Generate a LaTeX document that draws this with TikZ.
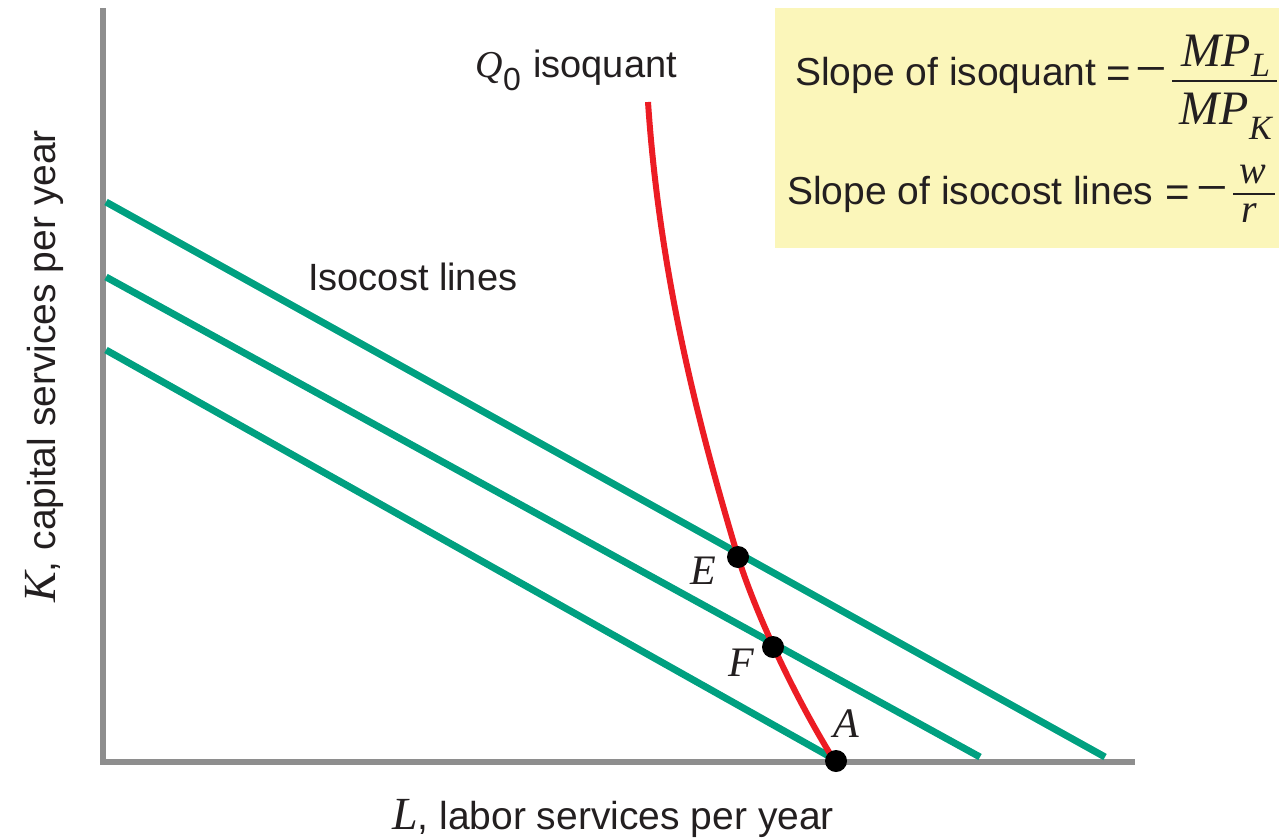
\documentclass[tikz,border=0pt]{standalone}
\usepackage{fontspec}
\setmainfont{Liberation Sans}
\newfontfamily\tms{Liberation Serif}
\definecolor{isogreen}{RGB}{0,160,128}
\definecolor{isored}{RGB}{236,28,36}
\definecolor{axisgray}{RGB}{142,142,142}
\definecolor{boxyellow}{RGB}{251,246,186}
\definecolor{textdark}{RGB}{35,31,32}
\newcommand{\sfz}[1]{\fontsize{#1}{#1}\selectfont}
\begin{document}
\begin{tikzpicture}[x=1pt,y=-1pt,
  lab/.style={inner sep=0pt, text=textdark},
  axisline/.style={draw=axisgray, line width=6pt},
  isocost/.style={draw=isogreen, line width=7pt},
  isoquant/.style={draw=isored, line width=6pt},
  dotnode/.style={circle, fill=black, inner sep=0pt, minimum size=22pt},
  fracbar/.style={draw=textdark, line width=2.2pt}]
\useasboundingbox (0,0) rectangle (1279,838);
% formula box
\fill[boxyellow] (775,8) rectangle (1279,248);
% axes
\coordinate (Ytop) at (103,8);
\coordinate (O) at (103,762);
\coordinate (Xend) at (1135,762);
\draw[axisline] (Ytop) -- (O) -- (Xend);
% isocost lines
\coordinate (c1s) at (106,202);
\coordinate (c1e) at (1105,757);
\coordinate (c2s) at (106,277);
\coordinate (c2e) at (980,757);
\coordinate (c3s) at (106,350);
\coordinate (c3e) at (834,759);
\draw[isocost] (c1s) -- (c1e);
\draw[isocost] (c2s) -- (c2e);
\draw[isocost] (c3s) -- (c3e);
% points
\coordinate (pTop) at (648,102);
\coordinate (pE) at (738,557);
\coordinate (pF) at (773,647);
\coordinate (pA) at (836,761);
\coordinate (pEnd) at (832,757);
% isoquant
\draw[isoquant] (pTop) .. controls (660,280) and (700,430) .. (pE)
  .. controls (753,605) and (788,685) .. (pEnd);
\node[dotnode] (E) at (pE) {};
\node[dotnode] (F) at (pF) {};
\node[dotnode] (A) at (pA) {};
\node[lab, font=\tms\itshape\sfz{42}] (Elab) at (703,571) {E};
\node[lab, font=\tms\itshape\sfz{42}] (Flab) at (741,663) {F};
\node[lab, font=\tms\itshape\sfz{42}] (Alab) at (846,724) {A};
% isoquant label
\node[lab, anchor=base west, font=\tms\itshape\sfz{38}] (Q) at (475,77) {Q};
\node[lab, anchor=base west, font=\sfz{32}] (Qsub) at (503,90) {0};
\node[lab, anchor=base west, font=\sfz{38}] (Qiso) at (533,77) {isoquant};
% isocost label
\node[lab, anchor=base west, font=\sfz{38}] (IsoLab) at (308,290) {Isocost lines};
% axis labels
\node[lab, anchor=base west, font=\sfz{39}] (xlab) at (392,829) {{\tms\itshape\sfz{46}L}, labor services per year};
\node[lab, anchor=base west, rotate=90, font=\sfz{39}] (ylab) at (55,603) {{\tms\itshape\sfz{46}K}, capital services per year};
% formula line 1
\node[lab, anchor=base west, font=\sfz{39}] (s1) at (795,85) {Slope of isoquant};
\node[lab, anchor=base, font=\sfz{42}] (eq1) at (1119,87) {=};
\node[lab, anchor=base, font=\tms\sfz{56}] (mi1) at (1151,87) {−};
\node[lab, anchor=base west, font=\tms\itshape\sfz{48}] (n1) at (1181,66) {MP};
\node[lab, anchor=base west, font=\tms\itshape\sfz{34}] (n1s) at (1251,76) {L};
\node[lab, anchor=base west, font=\tms\itshape\sfz{48}] (d1) at (1179,124) {MP};
\node[lab, anchor=base west, font=\tms\itshape\sfz{34}] (d1s) at (1249,139) {K};
\coordinate (b1s) at (1172,81);
\coordinate (b1e) at (1277,81);
\draw[fracbar] (b1s) -- (b1e);
% formula line 2
\node[lab, anchor=base west, font=\sfz{39}] (s2) at (787,204) {Slope of isocost lines};
\node[lab, anchor=base, font=\sfz{42}] (eq2) at (1178,206) {=};
\node[lab, anchor=base, font=\tms\sfz{56}] (mi2) at (1212,206) {−};
\node[lab, anchor=base west, font=\tms\itshape\sfz{40}] (nw) at (1239,183) {w};
\node[lab, anchor=base west, font=\tms\itshape\sfz{40}] (dr) at (1241,222) {r};
\coordinate (b2s) at (1233,194);
\coordinate (b2e) at (1275,194);
\draw[fracbar, line width=1.8pt] (b2s) -- (b2e);
\end{tikzpicture}
\end{document}
